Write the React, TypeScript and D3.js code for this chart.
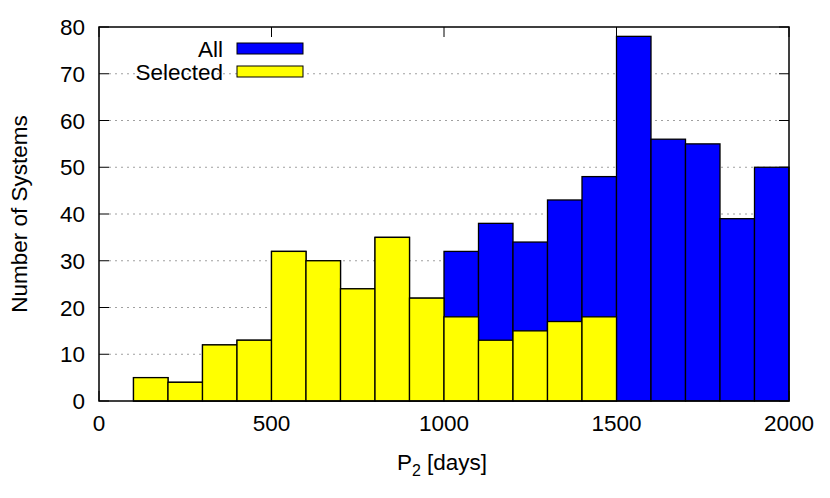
import React from "react";
import * as d3 from "d3";

// histogram bins (start of each 100-day bin)
const binStarts = [100, 200, 300, 400, 500, 600, 700, 800, 900, 1000, 1100, 1200, 1300, 1400, 1500, 1600, 1700, 1800, 1900];
const allCounts = [5, 4, 12, 13, 32, 30, 24, 35, 22, 32, 38, 34, 43, 48, 78, 56, 55, 39, 50];
const selectedCounts = [5, 4, 12, 13, 32, 30, 24, 35, 22, 18, 13, 15, 17, 18, 0, 0, 0, 0, 0];
const binWidth = 100;
const xTicks = [0, 500, 1000, 1500, 2000];
const yTicks = [0, 10, 20, 30, 40, 50, 60, 70, 80];
const seriesNames = ["All", "Selected"];
const seriesColors = ["#0000ff", "#ffff00"];

const W = 830;
const H = 498;
const margin = { top: 27, right: 41, bottom: 97, left: 99 };
const font = "'Liberation Sans', Arial, sans-serif";
const fs = 22.5;

export default function App() {
  const x = d3.scaleLinear().domain([0, 2000]).range([margin.left, W - margin.right]);
  const y = d3.scaleLinear().domain([0, 80]).range([H - margin.bottom, margin.top]);
  const x0 = x.range()[0];
  const x1 = x.range()[1];
  const y0 = y.range()[0];
  const y1 = y.range()[1];
  const tick = 10;

  const bars = (counts: number[], color: string) =>
    counts.map((c, i) =>
      c > 0 ? (
        <rect
          key={i}
          x={x(binStarts[i])}
          y={y(c)}
          width={x(binStarts[i] + binWidth) - x(binStarts[i])}
          height={y(0) - y(c)}
          fill={color}
          stroke="#000"
          strokeWidth={1.3}
        />
      ) : null
    );

  return (
    <svg width={W} height={H} style={{ position: "absolute", left: 0, top: 0 }} fontFamily={font}>
      <rect width={W} height={H} fill="#fff" />
      {/* grid */}
      {yTicks.slice(1, -1).map((t) => (
        <line key={t} x1={x0 + tick} x2={x1 - tick} y1={y(t)} y2={y(t)} stroke="#a0a0a0" strokeWidth={1} strokeDasharray="2,4" />
      ))}
      {/* ticks */}
      {yTicks.map((t) => (
        <g key={t} stroke="#000" strokeWidth={1}>
          <line x1={x0} x2={x0 + tick} y1={y(t)} y2={y(t)} />
          <line x1={x1 - tick} x2={x1} y1={y(t)} y2={y(t)} />
        </g>
      ))}
      {xTicks.map((t) => (
        <g key={t} stroke="#000" strokeWidth={1}>
          <line x1={x(t)} x2={x(t)} y1={y0} y2={y0 - tick} />
          <line x1={x(t)} x2={x(t)} y1={y1} y2={y1 + tick} />
        </g>
      ))}
      {bars(allCounts, seriesColors[0])}
      {bars(selectedCounts, seriesColors[1])}
      {/* frame */}
      <rect x={x0} y={y1} width={x1 - x0} height={y0 - y1} fill="none" stroke="#000" strokeWidth={1.5} />
      {/* tick labels */}
      {yTicks.map((t) => (
        <text key={t} x={x0 - 14} y={y(t)} dy="0.36em" textAnchor="end" fontSize={fs}>
          {t}
        </text>
      ))}
      {xTicks.map((t) => (
        <text key={t} x={x(t)} y={y0 + 30} textAnchor="middle" fontSize={fs}>
          {t}
        </text>
      ))}
      {/* axis titles */}
      <text x={442} y={470} textAnchor="middle" fontSize={fs}>
        P<tspan fontSize={16} dy={6}>2</tspan>
        <tspan dy={-6}> [days]</tspan>
      </text>
      <text transform={`translate(27,${(y0 + y1) / 2}) rotate(-90)`} textAnchor="middle" fontSize={fs}>
        Number of Systems
      </text>
      {/* legend */}
      {seriesNames.map((n, i) => (
        <g key={n}>
          <text x={223} y={49 + i * 23} dy="0.36em" textAnchor="end" fontSize={fs}>
            {n}
          </text>
          <rect x={237} y={43 + i * 23} width={66} height={11} fill={seriesColors[i]} stroke="#000" strokeWidth={1} />
        </g>
      ))}
    </svg>
  );
}
